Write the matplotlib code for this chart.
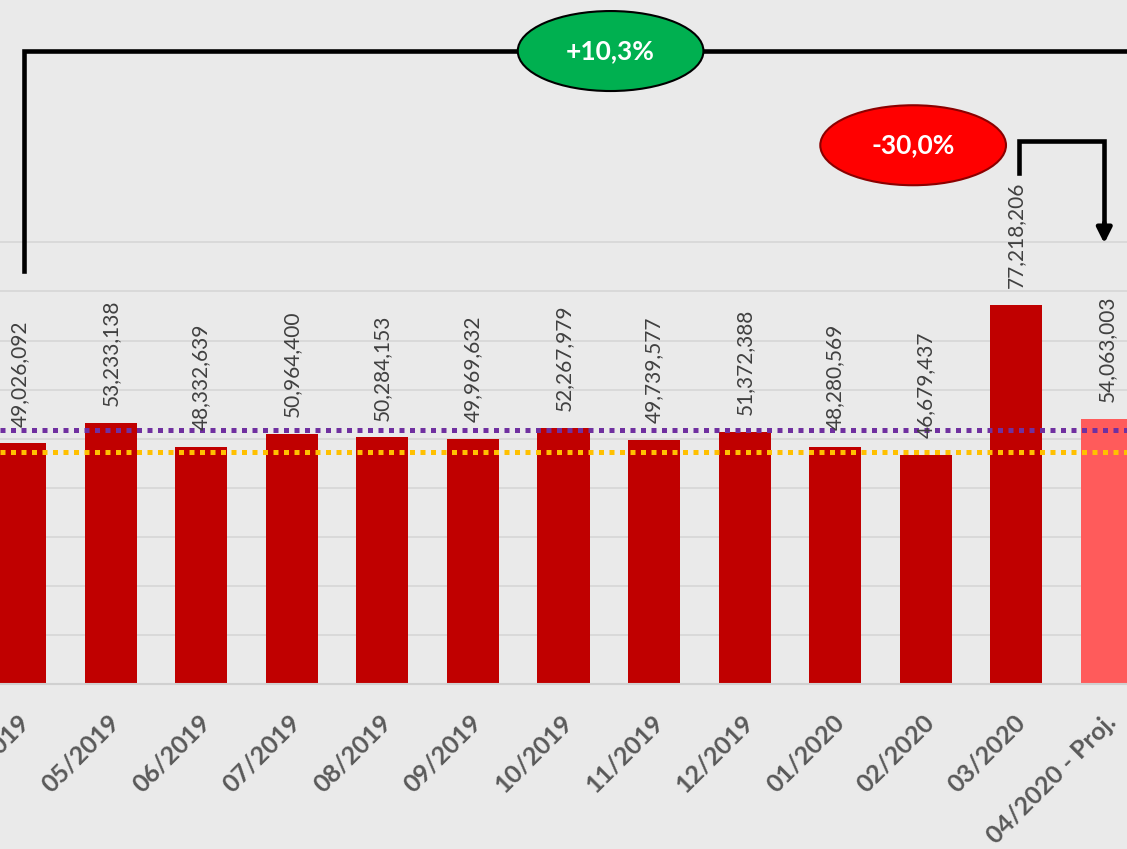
import matplotlib
matplotlib.use('Agg')
import matplotlib.pyplot as plt
from matplotlib.patches import Ellipse
import matplotlib.transforms as mtransforms

# data
months = ['04/2019', '05/2019', '06/2019', '07/2019', '08/2019', '09/2019',
          '10/2019', '11/2019', '12/2019', '01/2020', '02/2020', '03/2020',
          '04/2020 - Proj.']
values = [49026092, 53233138, 48332639, 50964400, 50284153, 49969632,
          52267979, 49739577, 51372388, 48280569, 46679437, 77218206,
          54063003]
avg_line = 51.75e6      # purple dotted reference
low_line = 47.3e6       # orange dotted reference
growth_label = '+10,3%'
drop_label = '-30,0%'

BAR_RED = '#C00000'
PROJ_RED = '#FF5B5B'
BG = '#EAEAEA'
FONT = 'Lato'

plt.rcParams['font.family'] = [FONT, 'DejaVu Sans']

fig = plt.figure(figsize=(11.27, 8.49), dpi=100, facecolor=BG)
ax = fig.add_axes([0, 0.1943, 1, 0.8057])
ax.set_facecolor(BG)

ind = list(range(len(values)))
colors = [BAR_RED] * (len(values) - 1) + [PROJ_RED]
ax.bar(ind, values, width=0.575, color=colors, zorder=2)

ax.set_xlim(-0.221, 12.221)
ax.set_ylim(0, 139.4e6)
ax.set_yticks([i * 10e6 for i in range(10)])
ax.yaxis.grid(True, color='#D6D6D6', linewidth=1.2, zorder=0)
ax.set_axisbelow(True)
ax.tick_params(axis='y', left=False, labelleft=False)
ax.tick_params(axis='x', length=0, pad=25)
for side in ('left', 'right', 'top'):
    ax.spines[side].set_visible(False)
ax.spines['bottom'].set_color('#D0D0D0')
ax.spines['bottom'].set_linewidth(1.5)

ax.set_xticks(ind)
ax.set_xticklabels(months, rotation=45, ha='right', va='center',
                   rotation_mode='anchor', fontsize=18, fontweight='bold',
                   color='#595959')
shift = mtransforms.ScaledTranslation(5 / 100, 0, fig.dpi_scale_trans)
for lbl in ax.get_xticklabels():
    lbl.set_transform(lbl.get_transform() + shift)

# data labels
for i, v in zip(ind, values):
    ax.annotate(f'{v:,}', (i, v), xytext=(0, 12), textcoords='offset points',
                rotation=90, ha='center', va='bottom', fontsize=15,
                color='#404040', zorder=4)

# dotted reference lines
ax.axhline(avg_line, color='#7030A0', linewidth=3.6,
           linestyle=(0, (1, 1.1)), zorder=3)
ax.axhline(low_line, color='#FFC000', linewidth=3.6,
           linestyle=(0, (1, 1.1)), zorder=3)

# bracket from first bar to projection
lw = 3.3
ax.plot([0.04, 0.04, 12.5], [84.1e6, 129.0e6, 129.0e6], color='black',
        linewidth=lw, solid_joinstyle='miter', clip_on=False, zorder=5)
ax.add_patch(Ellipse((6.52, 129.0e6), 2.05, 16.3e6, facecolor='#00B050',
                     edgecolor='black', linewidth=1.5, zorder=6))
ax.text(6.52, 129.0e6, growth_label, ha='center', va='center', fontsize=19,
        fontweight='bold', color='white', zorder=7)

# bracket from 03/2020 to projection
ax.plot([11.03, 11.03, 11.97, 11.97], [104.1e6, 110.6e6, 110.6e6, 93.5e6],
        color='black', linewidth=lw, solid_joinstyle='miter', zorder=5)
ax.annotate('', xy=(11.97, 89.8e6), xytext=(11.97, 94e6),
            arrowprops=dict(arrowstyle='-|>,head_length=0.9,head_width=0.45',
                            color='black', linewidth=lw, shrinkA=0, shrinkB=0),
            zorder=5)
ax.add_patch(Ellipse((9.86, 109.8e6), 2.05, 16.3e6, facecolor='#FF0000',
                     edgecolor='#8B0000', linewidth=1.5, zorder=6))
ax.text(9.86, 109.8e6, drop_label, ha='center', va='center', fontsize=19,
        fontweight='bold', color='white', zorder=7)

fig.savefig('out.png', dpi=100, facecolor=BG)
